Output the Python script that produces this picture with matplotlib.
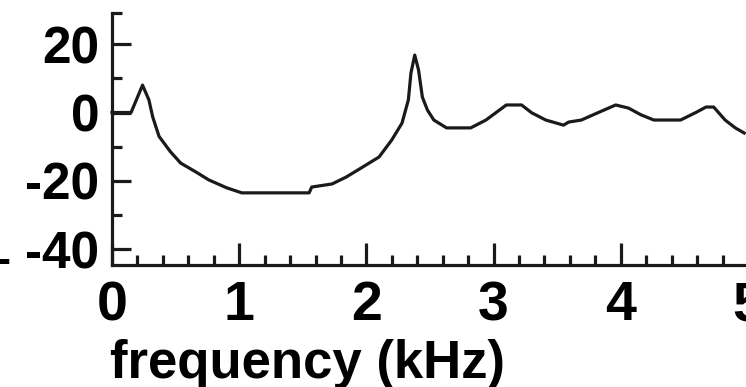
import matplotlib
matplotlib.use("Agg")
import matplotlib.pyplot as plt
from matplotlib.ticker import MultipleLocator, FixedLocator

# Data (frequency in kHz, level in dB)
freq_khz = [0.00, 0.15, 0.24, 0.29, 0.32, 0.37, 0.46, 0.54, 0.66, 0.76, 0.90, 1.02,
            1.47, 1.55, 1.57, 1.73, 1.84, 1.96, 2.10, 2.20, 2.28, 2.33, 2.35, 2.38,
            2.41, 2.44, 2.48, 2.53, 2.63, 2.82, 2.94, 3.10, 3.22, 3.30, 3.41, 3.55,
            3.59, 3.69, 3.83, 3.96, 4.06, 4.16, 4.26, 4.47, 4.59, 4.67, 4.73, 4.82,
            4.90, 4.97]
level_db = [0.0, 0.0, 8.0, 3.7, -1.3, -7.0, -11.5, -14.8, -17.4, -19.7, -22.0, -23.5,
            -23.5, -23.5, -21.8, -20.9, -18.9, -16.2, -13.0, -8.0, -3.1, 3.7, 11.5, 16.8,
            12.4, 4.5, 0.7, -2.2, -4.5, -4.5, -2.2, 2.2, 2.2, -0.1, -2.2, -3.7,
            -2.8, -2.2, 0.1, 2.2, 1.3, -0.7, -2.2, -2.2, 0.0, 1.6, 1.6, -2.2,
            -4.5, -6.0]

x_major = [0, 1, 2, 3, 4, 5]
y_major = [-40, -20, 0, 20]
y_minor = [-30, -10, 10]
x_label = "frequency (kHz)"

fam = ["Liberation Sans", "DejaVu Sans"]

W, H = 746, 387
fig = plt.figure(figsize=(W / 100, H / 100), dpi=100)
x0, x1 = 112, 748
yb, yt = 265, 13
ax = fig.add_axes([x0 / W, 1 - yb / H, (x1 - x0) / W, (yb - yt) / H])

ax.plot(freq_khz, level_db, color="#1a1a1a", lw=2.3, clip_on=False)

ylo, yhi = -44.6, 29.1
ax.set_xlim(0, 5)
ax.set_ylim(ylo, yhi)

for s in ["top", "right"]:
    ax.spines[s].set_visible(False)
for s in ["left", "bottom"]:
    ax.spines[s].set_linewidth(2.3)
    ax.spines[s].set_color("#1a1a1a")

ax.xaxis.set_major_locator(FixedLocator(x_major))
ax.xaxis.set_minor_locator(MultipleLocator(0.2))
ax.yaxis.set_major_locator(FixedLocator(y_major))
ax.yaxis.set_minor_locator(FixedLocator(y_minor + [yhi]))

ax.tick_params(which="major", direction="in", length=14, width=2.3, color="#1a1a1a", pad=9)
ax.tick_params(which="minor", direction="in", length=7, width=2.3, color="#1a1a1a")
ax.tick_params(axis="x", which="major", length=16, pad=11)

fp = dict(family=fam, weight="bold")
ax.set_xticklabels([str(v) for v in x_major], fontsize=40, **fp)
ax.set_yticklabels([str(v) for v in y_major], fontsize=37, **fp)

fig.text(110 / W, 1 - 378 / H, x_label, ha="left", va="baseline", fontsize=38, **fp)
fig.text(-4 / W, 1 - 262 / H, "-", ha="left", va="center", fontsize=30, **fp)

fig.savefig("out.png", dpi=100)
